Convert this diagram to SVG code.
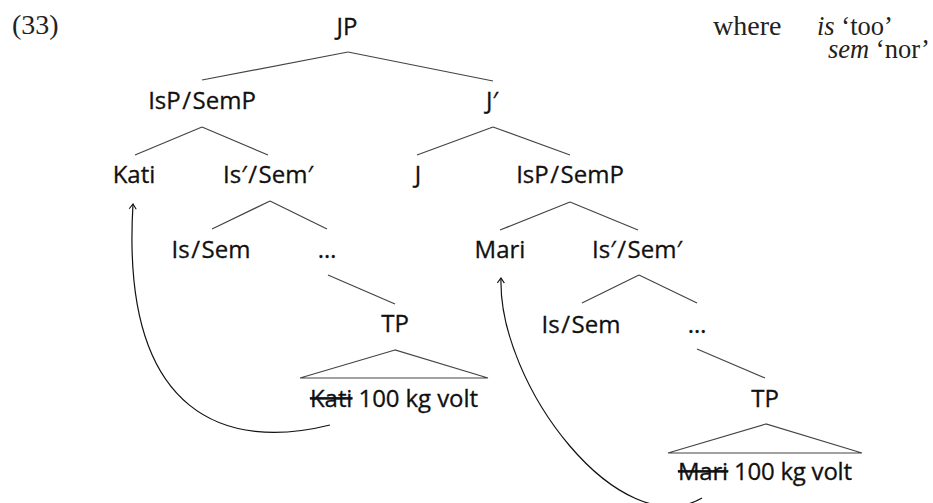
<svg xmlns="http://www.w3.org/2000/svg" width="933" height="503" viewBox="0 0 933 503">
<style>
.n{font-family:"Open Sans","Noto Sans","DejaVu Sans",sans-serif;font-size:24px;fill:#111;stroke:#111;stroke-width:0.3;text-anchor:middle}
.s{font-family:"Liberation Serif","Times New Roman",serif;font-size:28px;fill:#222}
.g{font-size:26.5px}
.i{font-style:italic}
.e{fill:none;stroke:#444;stroke-width:1.2}
.m{fill:none;stroke:#111;stroke-width:1.2}
.st{text-decoration:line-through}
</style>
<defs>
<marker id="ah" markerUnits="userSpaceOnUse" markerWidth="12" markerHeight="12" viewBox="-8 -6 10 12" refX="0" refY="0" orient="auto">
<path d="M-5,-3.5 L0,0 L-5,3.5" fill="none" stroke="#111" stroke-width="1.1"/>
</marker>
</defs>
<rect width="933" height="503" fill="#fff"/>

<g id="label">
<text class="s" x="12" y="34">(33)</text>
<text class="s" x="713" y="35">where</text>
<text class="s g" x="817" y="35"><tspan class="i">is</tspan> ‘too’</text>
<text class="s g" x="828" y="58"><tspan class="i">sem</tspan> ‘nor’</text>
</g>

<g id="connectors">
<line class="e" x1="348" y1="52" x2="202" y2="80"/>
<line class="e" x1="348" y1="52" x2="493" y2="81"/>
<line class="e" x1="202" y1="127" x2="135" y2="155"/>
<line class="e" x1="202" y1="127" x2="268" y2="155"/>
<line class="e" x1="493" y1="127" x2="417" y2="155"/>
<line class="e" x1="493" y1="127" x2="570" y2="155"/>
<line class="e" x1="270" y1="201" x2="212" y2="229"/>
<line class="e" x1="270" y1="201" x2="327" y2="229"/>
<line class="e" x1="328" y1="275" x2="395" y2="304"/>
<polygon class="e" points="395,350 300,378 488,378"/>
<line class="e" x1="570" y1="202" x2="500" y2="230"/>
<line class="e" x1="570" y1="202" x2="638" y2="230"/>
<line class="e" x1="639" y1="275" x2="582" y2="303"/>
<line class="e" x1="639" y1="275" x2="697" y2="303"/>
<line class="e" x1="697" y1="349" x2="765" y2="378"/>
<polygon class="e" points="766,424 668,453 862,453"/>
<path class="m" d="M330,425 C230,450 120,420 133,204" marker-end="url(#ah)"/>
<path class="m" d="M702,498 C620,545 498,385 501,278" marker-end="url(#ah)"/>
</g>

<g id="JP"><text class="n" x="347" y="35">JP</text></g>
<g id="IsP-SemP-1"><text class="n" x="202" y="109">IsP<tspan dx="1.5">/</tspan><tspan dx="1.5">SemP</tspan></text></g>
<g id="Jbar"><text class="n" x="492" y="109">J′</text></g>
<g id="Kati"><text class="n" x="134" y="183">Kati</text></g>
<g id="IsBar-SemBar-1"><text class="n" x="268" y="183">Is′<tspan dx="1.5">/</tspan><tspan dx="1.5">Sem′</tspan></text></g>
<g id="J"><text class="n" x="418" y="183">J</text></g>
<g id="IsP-SemP-2"><text class="n" x="570" y="183">IsP<tspan dx="1.5">/</tspan><tspan dx="1.5">SemP</tspan></text></g>
<g id="Is-Sem-1"><text class="n" x="211" y="258">Is<tspan dx="1.5">/</tspan><tspan dx="1.5">Sem</tspan></text></g>
<g id="dots-1"><text class="n" x="327" y="258">…</text></g>
<g id="Mari"><text class="n" x="500" y="258">Mari</text></g>
<g id="IsBar-SemBar-2"><text class="n" x="637" y="258">Is′<tspan dx="1.5">/</tspan><tspan dx="1.5">Sem′</tspan></text></g>
<g id="TP-1"><text class="n" x="395" y="332">TP</text></g>
<g id="Is-Sem-2"><text class="n" x="581" y="333">Is<tspan dx="1.5">/</tspan><tspan dx="1.5">Sem</tspan></text></g>
<g id="dots-2"><text class="n" x="697" y="333">…</text></g>
<g id="TP-1-content"><text class="n" x="394" y="407" textLength="168"><tspan class="st">Kati</tspan> 100 kg volt</text></g>
<g id="TP-2"><text class="n" x="765" y="407">TP</text></g>
<g id="TP-2-content"><text class="n" x="765" y="480" textLength="174"><tspan class="st">Mari</tspan> 100 kg volt</text></g>
</svg>
